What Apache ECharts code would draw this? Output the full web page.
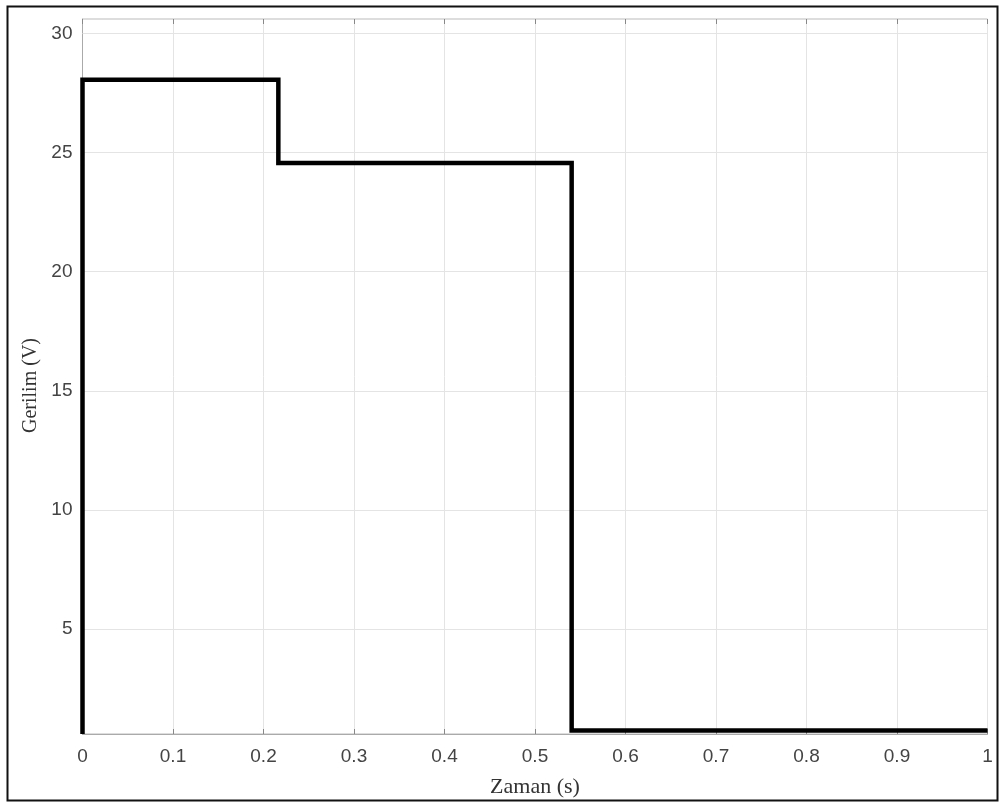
<!DOCTYPE html>
<html>
<head>
<meta charset="utf-8">
<script src="https://cdn.jsdelivr.net/npm/echarts@6/dist/echarts.min.js"></script>
<style>
html,body{margin:0;padding:0;background:#fff;}
#chart{width:1000px;height:803px;}
</style>
</head>
<body>
<div id="chart"></div>
<script>
// Data
var timeS = [0, 0, 0.2164, 0.2164, 0.5405, 0.5405, 1];
var voltV = [0.6, 28.05, 28.05, 24.56, 24.56, 0.75, 0.75];
var xTicks = [0, 0.1, 0.2, 0.3, 0.4, 0.5, 0.6, 0.7, 0.8, 0.9, 1];
var yTicks = [5, 10, 15, 20, 25, 30];
var xTitle = 'Zaman (s)';
var yTitle = 'Gerilim (V)';

var points = timeS.map(function (t, i) { return [t, voltV[i]]; });

var chart = echarts.init(document.getElementById('chart'), null, {renderer: 'canvas'});
var gridLine = {show: true, lineStyle: {color: '#e4e4e4', width: 1}};
var tickLbl = {color: '#444', fontFamily: 'Liberation Sans, Arial, sans-serif', fontSize: 19};
chart.setOption({
  animation: false,
  backgroundColor: '#fff',
  grid: {left: 82.5, right: 12.5, top: 19, bottom: 68.7, show: true, borderColor: '#bbb', borderWidth: 1},
  xAxis: [{
    type: 'value', min: 0, max: 1, interval: 0.1,
    axisLine: {show: true, lineStyle: {color: '#aaa', width: 1}},
    axisTick: {show: true, inside: true, length: 5, lineStyle: {color: '#888'}},
    axisLabel: Object.assign({margin: 13, formatter: function (v) {
      var r = Math.round(v * 10) / 10; return xTicks.indexOf(r) >= 0 ? String(r) : ''; }}, tickLbl),
    splitLine: gridLine,
    name: xTitle, nameLocation: 'middle', nameGap: 42,
    nameTextStyle: {fontFamily: 'Liberation Serif, DejaVu Serif, serif', fontSize: 22, color: '#333'}
  }, {
    type: 'value', min: 0, max: 1, interval: 0.1, position: 'top',
    axisLine: {show: false}, axisLabel: {show: false}, splitLine: {show: false},
    axisTick: {show: true, inside: true, length: 5, lineStyle: {color: '#888'}}
  }],
  yAxis: [{
    type: 'value', min: 0.6, max: 30.6,
    axisLine: {show: true, lineStyle: {color: '#aaa', width: 1}},
    axisTick: {show: false},
    axisLabel: Object.assign({margin: 10, customValues: yTicks}, tickLbl),
    splitLine: {show: false},
    name: yTitle, nameLocation: 'middle', nameGap: 39, nameRotate: 90,
    nameTextStyle: {fontFamily: 'Liberation Serif, DejaVu Serif, serif', fontSize: 20, color: '#333', padding: [0, 18, 0, 0]}
  }],
  series: [{
    type: 'line',
    data: points,
    showSymbol: false,
    lineStyle: {color: '#000', width: 4.5, join: 'miter'},
    markLine: {
      silent: true, symbol: 'none', label: {show: false},
      lineStyle: {color: '#e4e4e4', width: 1, type: 'solid'},
      data: yTicks.map(function (v) { return {yAxis: v}; })
    },
    z: 5
  }],
  graphic: [{
    type: 'rect', left: 5, top: 4, shape: {width: 990, height: 794},
    style: {fill: 'none', stroke: '#111', lineWidth: 2}, silent: true
  }]
});
</script>
</body>
</html>
